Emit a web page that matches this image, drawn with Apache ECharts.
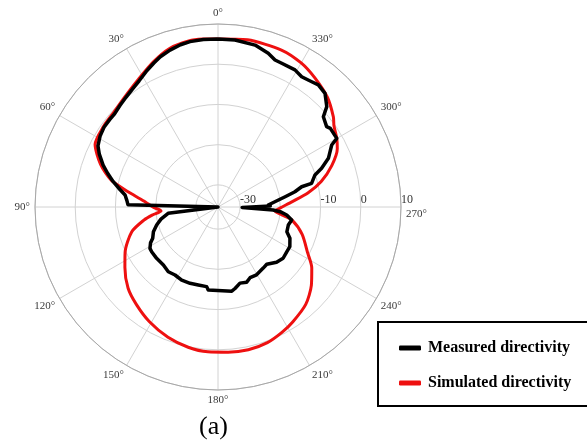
<!DOCTYPE html>
<html>
<head>
<meta charset="utf-8">
<script src="https://cdn.jsdelivr.net/npm/echarts@6/dist/echarts.min.js"></script>
<style>
  html, body { margin: 0; padding: 0; background: #ffffff; }
  #chart { width: 587px; height: 447px; }
</style>
</head>
<body>
<div id="chart"></div>
<script>
// ---- Data (angle in degrees, counter-clockwise from top; value in dB) ----
const seriesNames = ['Measured directivity', 'Simulated directivity'];

const simAngles = [0, 5, 10, 17, 24, 32, 40, 48, 55, 63, 70, 76, 81, 86, 90, 94, 97, 100, 106, 116, 123, 132, 140, 149, 159, 168, 176, 184, 192, 200, 207, 213, 222, 230, 237, 243, 252, 260, 263, 266, 269, 274, 279, 284, 290, 296, 300, 305, 308, 315, 323, 330, 338, 350, 360];
const simValues = [6.3, 6.4, 6.4, 5.7, 4.0, 1.9, 0.4, -0.5, -0.7, -1.2, -4.4, -8.2, -13.4, -17.4, -19.3, -21.3, -19.0, -16.8, -13.2, -9.8, -7.9, -5.4, -3.9, -2.3, -0.8, 0.15, 0.6, 0.7, 0.8, 0.4, -0.5, -1.4, -2.9, -5.2, -7.7, -10.5, -13.5, -16.8, -19.5, -21.3, -20.1, -17.1, -12.8, -9.0, -5.4, -2.5, -1.4, -0.3, 0.9, 3.0, 4.6, 5.85, 6.6, 6.7, 6.3];

const measAngles = [0, 5, 9.6, 13, 17, 21, 24, 28, 32, 36, 40, 44, 48, 51, 55, 59, 63, 66, 70, 73, 76.4, 80, 82.6, 86, 88.5, 89.5, 90.5, 97.2, 102, 106.4, 111, 115.6, 118, 121.3, 124, 129.9, 136.7, 142.5, 147.7, 153.6, 159.9, 165.8, 171.9, 173.3, 189.3, 191.8, 196.1, 200.9, 204.4, 209.6, 216.5, 220.4, 226.7, 231.8, 236.9, 241.1, 246.5, 250.2, 255.6, 260, 263.4, 265.7, 266.9, 269, 271, 272.3, 275.3, 278.7, 281.2, 283.6, 284.2, 288.3, 290.5, 293.8, 298.6, 300, 305, 306.5, 310.6, 312.7, 316.7, 320.6, 323.2, 327.3, 330.7, 336.1, 338.8, 341.9, 347.1, 354.2, 360];
const measValues = [6.3, 6.3, 6.2, 5.9, 5.3, 4.5, 3.7, 2.6, 1.5, 0.7, 0.1, -0.4, -0.9, -0.9, -0.9, -1.3, -2.0, -3.2, -5.1, -6.8, -8.7, -10.8, -12.2, -12.8, -13.1, -13.5, -35.5, -23.0, -21.0, -19.6, -18.3, -17.5, -16.5, -15.7, -15.6, -15.6, -15.7, -15.2, -15.5, -15.2, -15.3, -15.5, -15.5, -14.7, -14.3, -14.8, -15.8, -15.5, -16.2, -16.1, -16.6, -16.8, -15.5, -14.9, -15.1, -15.1, -16.0, -17.3, -17.45, -16.9, -18.3, -20.0, -21.8, -29.5, -22.5, -23.0, -21.3, -18.6, -16.0, -14.1, -11.5, -10.1, -8.0, -5.5, -3.3, -1.4, -1.4, -1.9, -1.0, 1.3, 3.3, 3.8, 3.4, 3.0, 3.6, 3.6, 3.7, 4.7, 5.8, 6.25, 6.3];

const radiusMin = -35.5;
const radiusMax = 10;
const radiusLabels = [-30, -10, 0, 10];
const angleLabelStep = 30;

// angle axis runs from -90 (pointing right) counter-clockwise
function wrapAngle(a) { return a > 270 ? a - 360 : a; }
function toPairs(angles, values) {
  return angles.map((a, i) => [values[i], wrapAngle(a)]);
}

const serif = '"Liberation Serif", "Times New Roman", serif';
const chart = echarts.init(document.getElementById('chart'), null, { renderer: 'canvas' });

chart.setOption({
  animation: false,
  backgroundColor: '#ffffff',
  title: {
    text: '(a)',
    left: 199,
    top: 414,
    padding: 0,
    textStyle: { fontFamily: serif, fontSize: 26, fontWeight: 'normal', color: '#000' }
  },
  polar: { center: [218, 207], radius: 183 },
  angleAxis: {
    type: 'value',
    min: -90,
    max: 270,
    interval: angleLabelStep,
    startAngle: 0,
    clockwise: false,
    axisLine: { show: true, lineStyle: { color: '#a8a8a8', width: 1 } },
    axisTick: { show: false },
    splitLine: { show: true, lineStyle: { color: '#d2d2d2', width: 1 } },
    axisLabel: {
      margin: 5,
      fontFamily: serif,
      fontSize: 11,
      color: '#3a3a3a',
      formatter: function (v) {
        if (v === 270) return '';
        const d = (v + 360) % 360;
        if (d === 270) return '{d|270°}';
        return d + '°';
      },
      rich: { d: { fontFamily: serif, fontSize: 11, color: '#3a3a3a', padding: [14, 0, 0, 0] } }
    }
  },
  radiusAxis: {
    type: 'value',
    min: radiusMin,
    max: radiusMax,
    splitNumber: 5,
    axisLine: { show: false },
    axisTick: { show: false },
    splitLine: { show: true, lineStyle: { color: '#d2d2d2', width: 1 } },
    axisLabel: {
      margin: 1,
      align: 'left',
      fontFamily: serif,
      fontSize: 12,
      color: '#333',
      formatter: function (v) {
        return radiusLabels.indexOf(v) >= 0 ? String(v) : '';
      }
    }
  },
  legend: {
    data: seriesNames,
    orient: 'vertical',
    left: 378,
    top: 322,
    padding: [18, 60, 15, 21],
    itemGap: 19,
    itemWidth: 22,
    itemHeight: 5,
    icon: 'roundRect',
    borderColor: '#000',
    borderWidth: 2,
    borderRadius: 0,
    textStyle: { fontFamily: serif, fontSize: 16, fontWeight: 'bold', color: '#000', padding: [0, 0, 0, 2] }
  },
  series: [
    {
      name: seriesNames[1],
      type: 'line',
      coordinateSystem: 'polar',
      data: toPairs(simAngles, simValues),
      showSymbol: false,
      smooth: 0.25,
      lineStyle: { color: '#ee1010', width: 3 },
      itemStyle: { color: '#ee1010' },
      z: 2
    },
    {
      name: seriesNames[0],
      type: 'line',
      coordinateSystem: 'polar',
      data: toPairs(measAngles, measValues),
      showSymbol: false,
      lineStyle: { color: '#000000', width: 3.5, join: 'round' },
      itemStyle: { color: '#000000' },
      z: 3
    }
  ]
});
</script>
</body>
</html>
